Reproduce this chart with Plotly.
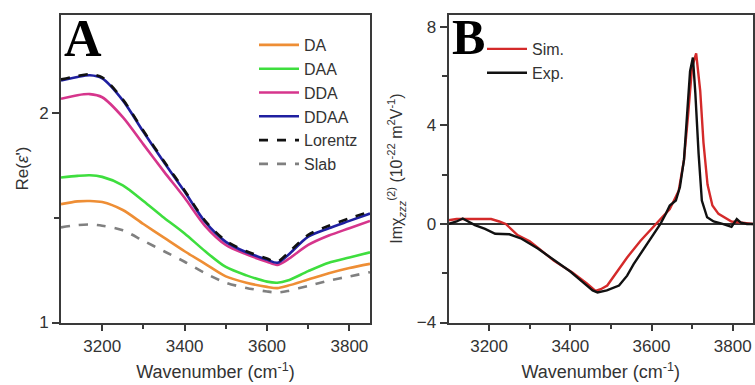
import plotly.graph_objects as go

# ---------------- Panel A data: Re(eps') ----------------
wnA = [3100, 3140, 3170, 3200, 3250, 3300, 3350, 3400, 3450, 3500,
       3550, 3600, 3625, 3650, 3700, 3750, 3800, 3850]
da = [1.565, 1.578, 1.580, 1.575, 1.537, 1.470, 1.405, 1.340, 1.280, 1.220,
      1.190, 1.170, 1.164, 1.175, 1.205, 1.235, 1.260, 1.280]
daa = [1.692, 1.700, 1.703, 1.695, 1.655, 1.580, 1.500, 1.425, 1.340, 1.265,
       1.225, 1.195, 1.190, 1.200, 1.245, 1.285, 1.310, 1.335]
dda = [2.068, 2.085, 2.090, 2.075, 1.980, 1.850, 1.720, 1.595, 1.460, 1.370,
       1.325, 1.290, 1.275, 1.300, 1.370, 1.415, 1.450, 1.485]
ddaa = [2.155, 2.172, 2.180, 2.165, 2.060, 1.910, 1.765, 1.625, 1.480, 1.385,
        1.335, 1.300, 1.285, 1.320, 1.410, 1.450, 1.485, 1.520]
lorentz = [2.160, 2.177, 2.185, 2.170, 2.065, 1.915, 1.770, 1.630, 1.485, 1.390,
           1.340, 1.305, 1.290, 1.330, 1.418, 1.462, 1.497, 1.530]
slab = [1.454, 1.465, 1.468, 1.462, 1.440, 1.390, 1.340, 1.290, 1.235, 1.190,
        1.165, 1.148, 1.143, 1.150, 1.175, 1.200, 1.220, 1.240]

# ---------------- Panel B data: Im chi(2) ----------------
wn_exp = [3100, 3120, 3135, 3150, 3165, 3190, 3215, 3250, 3280, 3320, 3360,
          3400, 3430, 3455, 3467, 3490, 3520, 3540, 3556, 3575, 3590, 3610,
          3622, 3635, 3645, 3660, 3670, 3680, 3688, 3695, 3702, 3708, 3716,
          3724, 3737, 3753, 3775, 3797, 3810, 3820, 3835, 3850]
exp_vals = [0.0, 0.1, 0.22, 0.1, -0.05, -0.2, -0.4, -0.42, -0.6, -1.0, -1.45,
            -1.93, -2.35, -2.7, -2.78, -2.7, -2.5, -2.1, -1.63, -1.15, -0.8, -0.3,
            0.0, 0.4, 0.75, 0.95, 1.5, 2.6, 4.6, 6.2, 6.75, 5.3, 2.85,
            0.95, 0.27, 0.1, 0.0, -0.12, 0.2, 0.05, 0.0, 0.0]
wn_sim = [3100, 3120, 3150, 3180, 3205, 3225, 3241, 3270, 3300, 3323, 3360,
          3405, 3440, 3462, 3475, 3491, 3515, 3540, 3573, 3595, 3612, 3630,
          3645, 3667, 3680, 3690, 3700, 3710, 3720, 3728, 3738, 3750, 3765,
          3797, 3830, 3850]
sim_vals = [0.15, 0.2, 0.2, 0.2, 0.2, 0.1, 0.0, -0.45, -0.7, -1.0, -1.5,
            -1.97, -2.4, -2.72, -2.65, -2.5, -1.95, -1.36, -0.68, -0.3, 0.0, 0.3,
            0.6, 1.35, 2.6, 4.4, 6.37, 6.92, 5.4, 3.3, 1.6, 0.75, 0.41,
            0.1, 0.05, 0.0]

W, H = 755, 385
def px(x):
    return x / W
def py(y):
    return 1 - y / H

FONT = "Liberation Sans, Arial, sans-serif"
AXC = "#3a3a3a"
TXC = "#333333"

fig = go.Figure()

seriesA = [
    ("DA", da, "#EE8E35", None),
    ("DAA", daa, "#3EDE3E", None),
    ("DDA", dda, "#D6358C", None),
    ("DDAA", ddaa, "#1F1FA0", None),
    ("Lorentz", lorentz, "#111111", "dash"),
    ("Slab", slab, "#808080", "dash"),
]
for name, vals, col, dash in seriesA:
    fig.add_trace(go.Scatter(
        x=wnA, y=vals, name=name, mode="lines",
        line=dict(color=col, width=2.6, dash=dash, shape="spline", smoothing=0.8),
        xaxis="x", yaxis="y", legend="legend"))

fig.add_trace(go.Scatter(x=wn_sim, y=sim_vals, name="Sim.", mode="lines",
                         line=dict(color="#D42A2A", width=2.4),
                         xaxis="x2", yaxis="y2", legend="legend2"))
fig.add_trace(go.Scatter(x=wn_exp, y=exp_vals, name="Exp.", mode="lines",
                         line=dict(color="#111111", width=2.4),
                         xaxis="x2", yaxis="y2", legend="legend2"))

yb, yt = py(322.5), py(14.5)

axis_common = dict(showline=True, linecolor=AXC, linewidth=1.8, mirror=True,
                   ticks="outside", ticklen=7, tickwidth=1.5, tickcolor=AXC,
                   showgrid=False, automargin=False,
                   tickfont=dict(family=FONT, size=17, color=TXC))
minor_common = dict(ticks="outside", ticklen=5, tickwidth=1.5, tickcolor=AXC)

fig.update_layout(
    width=W, height=H,
    margin=dict(l=0, r=0, t=0, b=0, autoexpand=False),
    paper_bgcolor="white", plot_bgcolor="white",
    showlegend=True,
    xaxis=dict(domain=[px(61), px(370)], range=[3100, 3850],
               tickvals=[3200, 3400, 3600, 3800],
               minor=dict(tickvals=[3300, 3500, 3700], **minor_common),
               title=dict(text="Wavenumber (cm<sup>-1</sup>)", standoff=11,
                          font=dict(family=FONT, size=18, color=TXC)),
               anchor="y", zeroline=False, **axis_common),
    yaxis=dict(domain=[yb, yt], range=[1, 2.47], tickvals=[1, 2],
               minor=dict(tickvals=[1.5], **minor_common),
               title=dict(text="Re(<i>ε</i>')", standoff=6,
                          font=dict(family=FONT, size=17, color=TXC)),
               anchor="x", zeroline=False, **axis_common),
    xaxis2=dict(domain=[px(448.5), px(753)], range=[3100, 3850],
                tickvals=[3200, 3400, 3600, 3800],
                minor=dict(tickvals=[3300, 3500, 3700], **minor_common),
                title=dict(text="Wavenumber (cm<sup>-1</sup>)", standoff=11,
                           font=dict(family=FONT, size=18, color=TXC)),
                anchor="y2", zeroline=False, **axis_common),
    yaxis2=dict(domain=[yb, yt], range=[-4, 8.5], tickvals=[-4, 0, 4, 8],
                minor=dict(tickvals=[-2, 2, 6], **minor_common),
                title=dict(text="Imχ<sub><i>zzz</i></sub><sup>(2)</sup> (10<sup>-22</sup> m<sup>2</sup>V<sup>-1</sup>)",
                           standoff=10, font=dict(family=FONT, size=16, color=TXC)),
                anchor="x2", zeroline=True, zerolinecolor="#333333", zerolinewidth=2,
                **axis_common),
    legend=dict(x=px(254), y=py(28), xanchor="left", yanchor="top",
                bgcolor="rgba(0,0,0,0)", borderwidth=0, tracegroupgap=0,
                itemwidth=40,
                font=dict(family=FONT, size=16, color=TXC)),
    legend2=dict(x=px(482), y=py(32), xanchor="left", yanchor="top",
                 bgcolor="rgba(0,0,0,0)", borderwidth=0, tracegroupgap=0,
                 itemwidth=40,
                 font=dict(family=FONT, size=16, color=TXC)),
)

fig.add_annotation(text="<b>A</b>", xref="paper", yref="paper",
                   x=px(62), y=py(38), xanchor="left", yanchor="middle",
                   showarrow=False,
                   font=dict(family="Liberation Serif, Times New Roman, serif", size=52, color="#000"))
fig.add_annotation(text="<b>B</b>", xref="paper", yref="paper",
                   x=px(450), y=py(37), xanchor="left", yanchor="middle",
                   showarrow=False,
                   font=dict(family="Liberation Serif, Times New Roman, serif", size=50, color="#000"))

fig.write_html("out.html", config={"displayModeBar": False},
               post_script="document.body.style.margin='0';")
